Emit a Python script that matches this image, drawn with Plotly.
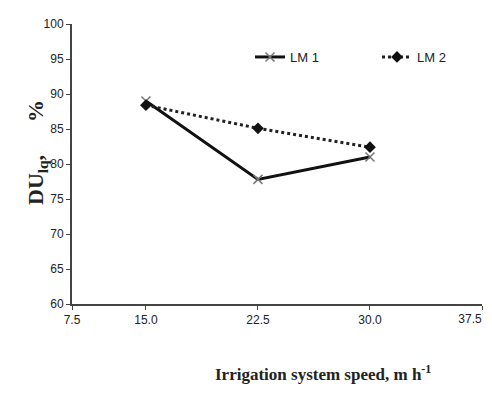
import plotly.graph_objects as go

speed = [15.0, 22.5, 30.0]
lm1 = [89.0, 77.8, 81.0]
lm2 = [88.4, 85.1, 82.4]
x_tick_vals = [10.05, 15.0, 22.5, 30.0, 37.5]
x_tick_text = ["7.5", "15.0", "22.5", "30.0", "37.5"]
y_ticks = [60, 65, 70, 75, 80, 85, 90, 95, 100]

# page has an 8px default body margin; keep the page free of scrollbars
OFF = 8
W, H = 492 - 2 * OFF, 401 - 2 * OFF
L, T = 72 - OFF, 24 - OFF
R = W - (482 - OFF)
B = H - (304 - OFF)
plot_w = W - L - R
plot_h = H - T - B


def px_to_paper(px, py):
    px -= OFF
    py -= OFF
    return (px - L) / plot_w, (H - B - py) / plot_h


fig = go.Figure()
fig.add_trace(go.Scatter(
    x=speed, y=lm1, name="LM 1", mode="lines+markers", legend="legend",
    line=dict(color="#111111", width=3),
    marker=dict(symbol="x-thin", size=9, line=dict(color="#777777", width=1.5), color="#777777"),
))
fig.add_trace(go.Scatter(
    x=speed, y=lm2, name="LM 2", mode="lines+markers", legend="legend2",
    line=dict(color="#222222", width=3, dash="dot"),
    marker=dict(symbol="diamond", size=9, color="#111111"),
))
# invisible helper trace so the overlay axis carrying the last tick label is drawn
fig.add_trace(go.Scatter(
    x=speed, y=lm1, xaxis="x2", mode="lines", showlegend=False, hoverinfo="skip",
    line=dict(color="rgba(0,0,0,0)", width=0),
))

yx, yy = px_to_paper(21, 153)
xx, xy = px_to_paper(323, 386)
l1x, ly = px_to_paper(250, 57)
l2x, _ = px_to_paper(377, 57)

legfont = dict(size=13, color="#222222", family="Liberation Sans Narrow, sans-serif")
x_range = [x_tick_vals[0], x_tick_vals[-1]]
main_text = x_tick_text[:-1] + [""]

fig.update_layout(
    width=W, height=H,
    margin=dict(l=L, r=R, t=T, b=B),
    paper_bgcolor="white", plot_bgcolor="white",
    font=dict(family="Liberation Sans Narrow, Liberation Sans, sans-serif", size=12, color="#222222"),
    showlegend=True,
    legend=dict(orientation="h", x=l1x, y=ly, xanchor="left", yanchor="middle",
                font=legfont, itemwidth=30, bgcolor="rgba(0,0,0,0)"),
    legend2=dict(orientation="h", x=l2x, y=ly, xanchor="left", yanchor="middle",
                 font=legfont, itemwidth=30, bgcolor="rgba(0,0,0,0)"),
    xaxis=dict(range=x_range, tickvals=x_tick_vals, ticktext=main_text,
               showline=True, linecolor="#444444", linewidth=2, ticks="outside", ticklen=4,
               tickcolor="#444444", showgrid=False, zeroline=False, automargin=False,
               tickfont=dict(size=12, color="#222222")),
    xaxis2=dict(range=x_range, overlaying="x", anchor="y", side="bottom",
                tickvals=[x_tick_vals[-1]], ticktext=[x_tick_text[-1]],
                showline=False, ticks="outside", ticklen=4, tickcolor="rgba(0,0,0,0)",
                showgrid=False, zeroline=False, automargin=False,
                ticklabelshift=-12, ticklabeloverflow="allow",
                tickfont=dict(size=12, color="#222222")),
    yaxis=dict(range=[60, 100], tickvals=y_ticks, showline=True, linecolor="#444444", linewidth=2,
               ticks="outside", ticklen=4, tickcolor="#444444", showgrid=False, zeroline=False,
               automargin=False, tickfont=dict(size=12, color="#222222")),
    annotations=[
        dict(text="<b>DU<sub>lq</sub>,&nbsp;&nbsp;&nbsp;&nbsp;&nbsp;&nbsp;%</b>", textangle=-90, x=yx, y=yy,
             xref="paper", yref="paper",
             showarrow=False, font=dict(family="Liberation Serif, serif", size=22, color="#222222")),
        dict(text="<b>Irrigation system speed, m h<sup>-1</sup></b>", x=xx, y=xy,
             xref="paper", yref="paper", showarrow=False,
             font=dict(family="Liberation Serif, serif", size=17, color="#222222")),
    ],
)

fig.write_html("out.html")
